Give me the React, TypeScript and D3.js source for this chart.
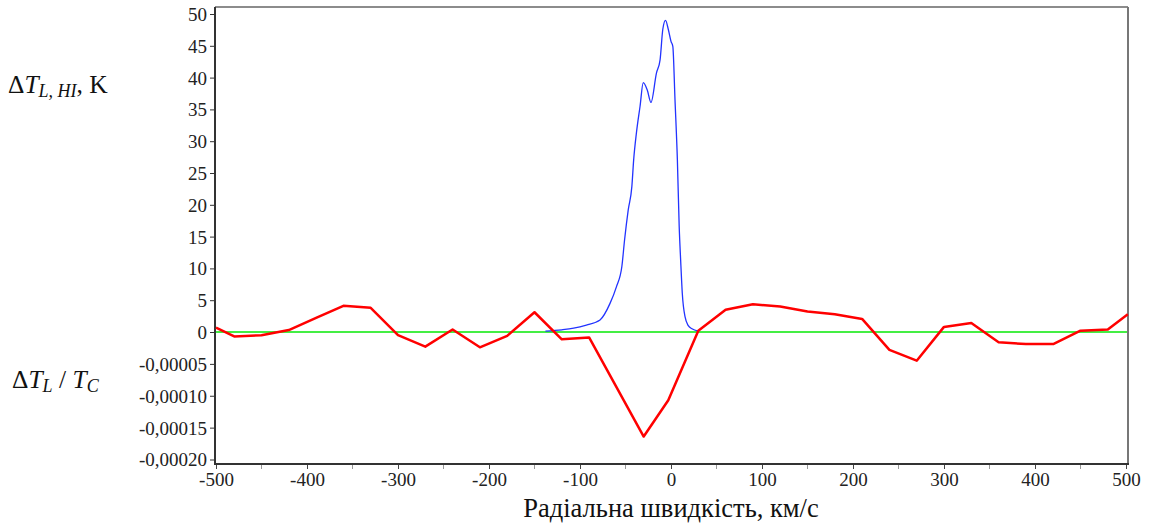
import React, { useEffect, useRef } from "react";
import * as d3 from "d3";

// radial velocity of the HI profile, km/s, and its brightness temperature, K
const hiVelocity = [-138, -120, -107, -93, -78, -67, -60, -54, -51, -47, -43, -41, -38, -34, -30.5, -26, -22, -16, -12, -9, -6, -3, 0, 2, 4.4, 7, 9, 10.6, 12.4, 15.4, 19, 23, 30];
const hiTemp = [0.15, 0.35, 0.6, 1.1, 1.9, 4.5, 7.1, 10.3, 14.5, 19.2, 22.9, 27.1, 31.3, 35.5, 39.2, 38.0, 36.1, 40.7, 42.8, 47.6, 49.0, 47.6, 45.7, 44.9, 36.5, 27.1, 16.6, 11.3, 6.1, 2.4, 1.0, 0.5, 0.15];

// relative line depth dT_L / T_C
const ratioVelocity = [-500, -480, -450, -420, -390, -360, -330, -300, -270, -240, -210, -180, -150, -120, -90, -30, -3, 30, 60, 90, 120, 150, 180, 210, 240, 270, 300, 330, 360, 390, 420, 450, 480, 502];
const ratioValue = [0.000007, -0.000007, -0.000005, 0.000003, 0.000022, 0.000041, 0.000038, -0.000005, -0.000023, 0.000004, -0.000024, -0.000006, 0.000031, -0.0000115, -0.0000085, -0.000164, -0.000107, 0.000002, 0.000035, 0.0000435, 0.00004, 0.000032, 0.000028, 0.0000205, -0.000028, -0.000045, 0.000008, 0.000014, -0.000016, -0.000019, -0.000019, 0.000002, 0.000004, 0.000028];

const xTicks = [-500, -400, -300, -200, -100, 0, 100, 200, 300, 400, 500];
const xMinorTicks = [-450, -350, -250, -150, -50, 50, 150, 250, 350, 450];
const tempTicks = [0, 5, 10, 15, 20, 25, 30, 35, 40, 45, 50];
const ratioTicks = [-0.00005, -0.0001, -0.00015, -0.0002];

const App = () => {
  const svgRef = useRef<SVGSVGElement>(null);

  useEffect(() => {
    const svg = d3.select(svgRef.current);
    svg.selectAll("*").remove();

    const left = 215;
    const right = 1128;
    const top = 7;
    const bottom = 464;
    const zeroY = 332;

    const x = d3.scaleLinear().domain([-500, 500]).range([216, 1126]);
    const yK = d3.scaleLinear().domain([0, 50]).range([zeroY, 14]);
    const yR = d3.scaleLinear().domain([0, -0.0002]).range([zeroY, 459.5]);

    // frame
    svg.append("line").attr("x1", left).attr("x2", right).attr("y1", top).attr("y2", top)
      .attr("stroke", "#666").attr("stroke-width", 1.5);
    svg.append("line").attr("x1", right).attr("x2", right).attr("y1", top).attr("y2", bottom)
      .attr("stroke", "#777").attr("stroke-width", 2);

    // y axis: upper part in K, lower part in dT_L / T_C
    const yAxisK = d3.axisLeft(yK).tickValues(tempTicks).tickSize(5).tickPadding(3)
      .tickFormat((d) => String(d));
    const yAxisR = d3.axisLeft(yR).tickValues(ratioTicks).tickSize(5).tickPadding(3)
      .tickFormat((d) => "-" + d3.format(".5f")(Math.abs(+d)).replace(".", ","));

    const gk = svg.append("g").attr("transform", `translate(${left},0)`).call(yAxisK);
    const gr = svg.append("g").attr("transform", `translate(${left},0)`).call(yAxisR);
    [gk, gr].forEach((g) => {
      g.attr("font-family", null).attr("font-size", null);
      g.select(".domain").remove();
      g.selectAll(".tick line").attr("stroke", "#333");
      g.selectAll("text").attr("class", "serif").style("font-size", "19px")
        .attr("fill", "#222").attr("dy", "0.34em");
    });
    svg.append("line").attr("x1", left).attr("x2", left).attr("y1", top).attr("y2", bottom + 1)
      .attr("stroke", "#333").attr("stroke-width", 2);

    // x axis
    const xAxis = d3.axisBottom(x).tickValues(xTicks).tickSize(5).tickPadding(4)
      .tickFormat((d) => String(d));
    const gx = svg.append("g").attr("transform", `translate(0,${bottom})`).call(xAxis);
    gx.attr("font-family", null).attr("font-size", null);
    gx.select(".domain").remove();
    gx.selectAll(".tick line").attr("stroke", "#444");
    gx.selectAll("text").attr("class", "serif").style("font-size", "19px").attr("fill", "#222");
    svg.append("g").selectAll("line").data(xMinorTicks).enter().append("line")
      .attr("x1", (d) => x(d)).attr("x2", (d) => x(d))
      .attr("y1", bottom).attr("y2", bottom + 5).attr("stroke", "#999");
    svg.append("line").attr("x1", left - 1).attr("x2", right + 1).attr("y1", bottom).attr("y2", bottom)
      .attr("stroke", "#333").attr("stroke-width", 2);

    // zero line
    svg.append("line").attr("x1", left + 1).attr("x2", right - 1).attr("y1", zeroY).attr("y2", zeroY)
      .attr("stroke", "#44ee44").attr("stroke-width", 2);

    // HI profile
    const hiLine = d3.line<number>()
      .x((d, i) => x(hiVelocity[i]))
      .y((d) => yK(d))
      .curve(d3.curveMonotoneX);
    svg.append("path").attr("d", hiLine(hiTemp)).attr("fill", "none")
      .attr("stroke", "#2233ff").attr("stroke-width", 1.3);

    // dT_L / T_C
    const ratioLine = d3.line<number>()
      .x((d, i) => x(ratioVelocity[i]))
      .y((d) => yR(d));
    svg.append("path").attr("d", ratioLine(ratioValue)).attr("fill", "none")
      .attr("stroke", "#ff0000").attr("stroke-width", 2.5).attr("stroke-linejoin", "round");

    // axis titles
    const t1 = svg.append("text").attr("x", 8).attr("y", 93).attr("class", "serif")
      .style("font-size", "25.5px").attr("fill", "#111");
    t1.append("tspan").text("Δ");
    t1.append("tspan").attr("font-style", "italic").text("T");
    t1.append("tspan").attr("font-style", "italic").style("font-size", "18px").attr("dy", 4).text("L, HI");
    t1.append("tspan").attr("dy", -4).text(", K");

    const t2 = svg.append("text").attr("x", 12).attr("y", 388).attr("class", "serif")
      .style("font-size", "25.5px").attr("fill", "#111");
    t2.append("tspan").text("Δ");
    t2.append("tspan").attr("font-style", "italic").text("T");
    t2.append("tspan").attr("font-style", "italic").style("font-size", "18px").attr("dy", 4).text("L");
    t2.append("tspan").attr("dy", -4).text(" / ");
    t2.append("tspan").attr("font-style", "italic").text("T");
    t2.append("tspan").attr("font-style", "italic").style("font-size", "18px").attr("dy", 4).text("C");

    svg.append("text").attr("x", 671).attr("y", 517).attr("text-anchor", "middle")
      .attr("class", "serif").style("font-size", "26.5px").attr("fill", "#111")
      .text("Радіальна швидкість, км/с");
  }, []);

  return (
    <div style={{ position: "absolute", left: 0, top: 0, background: "#fff" }}>
      <style>{`.serif { font-family: "Liberation Serif", "Times New Roman", Tinos, "DejaVu Serif", serif; }`}</style>
      <svg ref={svgRef} width={1152} height={524} style={{ display: "block" }}></svg>
    </div>
  );
};

export default App;
